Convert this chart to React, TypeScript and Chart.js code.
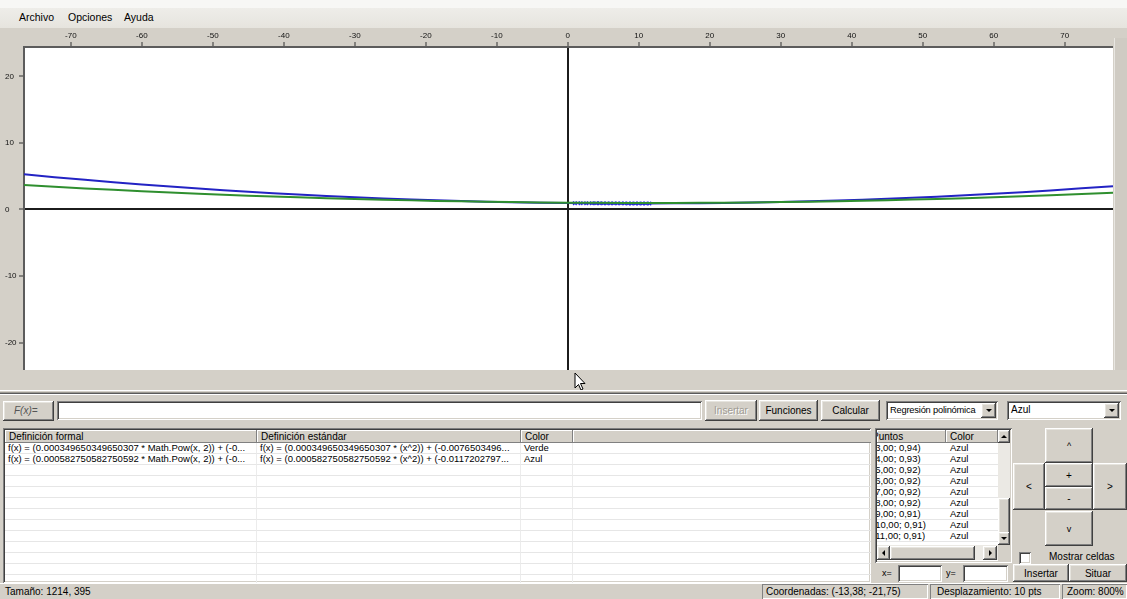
import React, { useEffect, useRef } from "react";
import { Chart, registerables } from "chart.js";

Chart.register(...registerables);

// ---- data ----
const xTickLabels = [-70, -60, -50, -40, -30, -20, -10, 0, 10, 20, 30, 40, 50, 60, 70];
const yTickLabels = [-20, -10, 0, 10, 20];
const X_MIN = -76.6;
const X_MAX = 76.8;
const Y_MIN = -24.1;
const Y_MAX = 24.4;

const curveX = [-76.6, -68, -60, -52, -45, -38, -30, -22, -15, -8, 0, 8, 15, 22, 30, 38, 45, 52, 60, 68, 76.8];
const blueY = [5.28, 4.45, 3.76, 3.15, 2.67, 2.25, 1.84, 1.5, 1.27, 1.09, 0.96, 0.9, 0.92, 0.98, 1.13, 1.36, 1.61, 1.93, 2.36, 2.86, 3.5];
const greenY = [3.67, 3.17, 2.75, 2.37, 2.08, 1.83, 1.57, 1.37, 1.22, 1.11, 1.03, 0.99, 0.99, 1.03, 1.12, 1.24, 1.4, 1.58, 1.83, 2.13, 2.51];

const pointX = [1, 1.8, 2.6, 3.4, 4, 4.5, 5, 5.5, 6, 6.5, 7, 7.5, 8, 8.5, 9, 9.5, 10, 10.5, 11, 11.5];
const pointY = [0.95, 0.95, 0.94, 0.94, 0.93, 0.93, 0.92, 0.92, 0.92, 0.92, 0.92, 0.92, 0.92, 0.91, 0.91, 0.91, 0.91, 0.91, 0.91, 0.91];

const functionRows = [
  {
    formal: "f(x) = (0.000349650349650307 * Math.Pow(x, 2)) + (-0...",
    standard: "f(x) = (0.000349650349650307 * (x^2)) + (-0.0076503496...",
    color: "Verde",
  },
  {
    formal: "f(x) = (0.000582750582750592 * Math.Pow(x, 2)) + (-0...",
    standard: "f(x) = (0.000582750582750592 * (x^2)) + (-0.0117202797...",
    color: "Azul",
  },
];

const pointRows = [
  "(3,00; 0,94)",
  "(4,00; 0,93)",
  "(5,00; 0,92)",
  "(6,00; 0,92)",
  "(7,00; 0,92)",
  "(8,00; 0,92)",
  "(9,00; 0,91)",
  "(10,00; 0,91)",
  "(11,00; 0,91)",
];

const BLUE = "#2323c4";
const GREEN = "#2f8f2f";
const POINT_BLUE = "#2a2af0";
const FONT = '"Liberation Sans", Arial, sans-serif';

const raised: React.CSSProperties = {
  background: "#d4d0c8",
  boxShadow:
    "inset -1px -1px #404040, inset 1px 1px #ffffff, inset -2px -2px #808080, inset 2px 2px #e6e4de",
};
const sunken: React.CSSProperties = {
  background: "#ffffff",
  boxShadow:
    "inset 1px 1px #808080, inset -1px -1px #ffffff, inset 2px 2px #404040, inset -2px -2px #d4d0c8",
};
const thinSunken: React.CSSProperties = {
  boxShadow: "inset 1px 1px #808080, inset -1px -1px #ffffff",
};

const abs = (l: number, t: number, w: number, h: number): React.CSSProperties => ({
  position: "absolute",
  left: l,
  top: t,
  width: w,
  height: h,
  boxSizing: "border-box",
});

function Btn(props: { l: number; t: number; w: number; h: number; text: string; disabled?: boolean; size?: number }) {
  const { l, t, w, h, text, disabled, size } = props;
  return (
    <div
      style={{
        ...abs(l, t, w, h),
        ...raised,
        display: "flex",
        alignItems: "center",
        justifyContent: "center",
        fontSize: size || 10,
        color: disabled ? "#a09c94" : "#000",
        textShadow: disabled ? "1px 1px #ffffff" : "none",
      }}
    >
      {text}
    </div>
  );
}

function Arrow(props: { dir: "down" | "up" | "left" | "right" }) {
  const s = 3;
  const base: React.CSSProperties = { width: 0, height: 0, borderStyle: "solid", borderColor: "transparent" };
  if (props.dir === "down")
    return <div style={{ ...base, borderWidth: `${s}px ${s}px 0 ${s}px`, borderTopColor: "#000" }} />;
  if (props.dir === "up")
    return <div style={{ ...base, borderWidth: `0 ${s}px ${s}px ${s}px`, borderBottomColor: "#000" }} />;
  if (props.dir === "left")
    return <div style={{ ...base, borderWidth: `${s}px ${s}px ${s}px 0`, borderRightColor: "#000" }} />;
  return <div style={{ ...base, borderWidth: `${s}px 0 ${s}px ${s}px`, borderLeftColor: "#000" }} />;
}

function ArrowBtn(props: { l: number; t: number; w: number; h: number; dir: "down" | "up" | "left" | "right" }) {
  return (
    <div style={{ ...abs(props.l, props.t, props.w, props.h), ...raised, display: "flex", alignItems: "center", justifyContent: "center" }}>
      <Arrow dir={props.dir} />
    </div>
  );
}

function Select(props: { l: number; t: number; w: number; h: number; text: string; size?: number }) {
  const { l, t, w, h, text, size } = props;
  return (
    <div style={{ ...abs(l, t, w, h), ...sunken }}>
      <div style={{ position: "absolute", left: 4, top: 3, fontSize: size || 10, lineHeight: "12px", color: "#000", whiteSpace: "nowrap", letterSpacing: size ? -0.2 : 0 }}>{text}</div>
      <ArrowBtn l={w - 17} t={2} w={15} h={h - 4} dir="down" />
    </div>
  );
}

function PlotChart() {
  const ref = useRef<HTMLCanvasElement | null>(null);
  useEffect(() => {
    if (!ref.current) return;
    const bgPlugin = {
      id: "bgPlugin",
      beforeDraw(chart: any) {
        const { ctx, chartArea: a, width, height } = chart;
        ctx.save();
        ctx.fillStyle = "#d4d0c8";
        ctx.fillRect(0, 0, width, height);
        ctx.fillStyle = "#ffffff";
        ctx.fillRect(a.left, a.top, a.right - a.left, a.bottom - a.top);
        ctx.restore();
      },
    };
    const tickFont = { size: 8, family: FONT };
    const zeroPad = (s: any) => {
      s.paddingTop = 0;
      s.paddingBottom = 0;
      s.paddingLeft = 0;
      s.paddingRight = 0;
    };
    const chart = new Chart(ref.current, {
      type: "scatter",
      data: {
        datasets: [
          {
            label: "Verde",
            data: curveX.map((x, i) => ({ x, y: greenY[i] })),
            showLine: true,
            borderColor: GREEN,
            backgroundColor: GREEN,
            borderWidth: 2,
            pointRadius: 0,
            tension: 0.4,
          },
          {
            label: "Azul",
            data: curveX.map((x, i) => ({ x, y: blueY[i] })),
            showLine: true,
            borderColor: BLUE,
            backgroundColor: BLUE,
            borderWidth: 2,
            pointRadius: 0,
            tension: 0.4,
          },
          {
            label: "Puntos",
            data: pointX.map((x, i) => ({ x, y: pointY[i] })),
            showLine: false,
            pointStyle: "crossRot",
            pointRadius: 2.5,
            borderWidth: 1.3,
            borderColor: POINT_BLUE,
            backgroundColor: POINT_BLUE,
          },
        ],
      },
      options: {
        animation: false,
        responsive: false,
        maintainAspectRatio: false,
        layout: { autoPadding: false, padding: { left: 5, top: 0, right: 0, bottom: 0 } },
        plugins: { legend: { display: false }, tooltip: { enabled: false } },
        scales: {
          x: {
            type: "linear",
            position: "top",
            min: X_MIN,
            max: X_MAX,
            afterFit: (s: any) => {
              s.height = 19;
              zeroPad(s);
            },
            afterBuildTicks: (s: any) => {
              s.ticks = xTickLabels.map((v) => ({ value: v }));
            },
            ticks: {
              font: tickFont,
              color: "#111",
              padding: 1,
              maxRotation: 0,
              autoSkip: false,
              includeBounds: false,
            },
            grid: {
              color: (c: any) => (c.tick && c.tick.value === 0 ? "#1c1c1c" : "rgba(0,0,0,0)"),
              lineWidth: 2,
              tickColor: "#333",
              tickWidth: 1,
              tickLength: 5,
            },
            border: { display: true, color: "#5c5c5c", width: 2 },
          },
          y: {
            type: "linear",
            position: "left",
            min: Y_MIN,
            max: Y_MAX,
            afterFit: (s: any) => {
              s.width = 19;
              zeroPad(s);
            },
            afterBuildTicks: (s: any) => {
              s.ticks = yTickLabels.map((v) => ({ value: v }));
            },
            ticks: {
              font: tickFont,
              color: "#111",
              padding: 1,
              crossAlign: "far",
              autoSkip: false,
              includeBounds: false,
            },
            grid: {
              color: (c: any) => (c.tick && c.tick.value === 0 ? "#1c1c1c" : "rgba(0,0,0,0)"),
              lineWidth: 2,
              tickColor: "#333",
              tickWidth: 1,
              tickLength: 5,
            },
            border: { display: true, color: "#5c5c5c", width: 2 },
          },
        },
      } as any,
      plugins: [bgPlugin],
    });
    return () => chart.destroy();
  }, []);
  return <canvas ref={ref} width={1113} height={342} style={{ position: "absolute", left: 0, top: 28, display: "block" }} />;
}

function FunctionTable() {
  const cols = [252, 264, 52, 547];
  const headers = ["Definición formal", "Definición estándar", "Color", ""];
  const rows = 13;
  return (
    <div style={{ ...abs(3, 428, 868, 155), ...sunken, overflow: "hidden" }}>
      <div style={{ position: "absolute", left: 2, top: 2, display: "flex", height: 13 }}>
        {headers.map((h, i) => (
          <div
            key={i}
            style={{
              width: cols[i],
              height: 13,
              ...raised,
              boxShadow: "inset -1px -1px #808080, inset 1px 1px #ffffff",
              fontSize: 10,
              lineHeight: "13px",
              paddingLeft: 4,
              boxSizing: "border-box",
              whiteSpace: "nowrap",
              overflow: "hidden",
            }}
          >
            {h}
          </div>
        ))}
      </div>
      {Array.from({ length: rows }).map((_, r) => {
        const row = functionRows[r];
        const cells = row ? [row.formal, row.standard, row.color, ""] : ["", "", "", ""];
        return (
          <div key={r} style={{ position: "absolute", left: 2, top: 15 + r * 11, display: "flex", height: 11 }}>
            {cells.map((c, i) => (
              <div
                key={i}
                style={{
                  width: cols[i],
                  height: 11,
                  boxSizing: "border-box",
                  borderBottom: "1px solid #e6e6e6",
                  borderRight: "1px solid #ececec",
                  fontSize: 9.5,
                  lineHeight: "10px",
                  paddingLeft: 3,
                  whiteSpace: "nowrap",
                  overflow: "hidden",
                }}
              >
                {c}
              </div>
            ))}
          </div>
        );
      })}
    </div>
  );
}

function PointsList() {
  return (
    <div style={{ ...abs(875, 428, 137, 135), ...sunken, overflow: "hidden" }}>
      <div style={{ position: "absolute", left: 2, top: 2, width: 69, height: 13, ...raised, boxShadow: "inset -1px -1px #808080, inset 1px 1px #ffffff", overflow: "hidden" }}>
        <div style={{ position: "absolute", left: -5, top: 0, fontSize: 10, lineHeight: "13px", whiteSpace: "nowrap" }}>Puntos</div>
      </div>
      <div style={{ position: "absolute", left: 71, top: 2, width: 52, height: 13, ...raised, boxShadow: "inset -1px -1px #808080, inset 1px 1px #ffffff", fontSize: 10, lineHeight: "13px", paddingLeft: 4, boxSizing: "border-box" }}>
        Color
      </div>
      {pointRows.map((p, i) => (
        <div key={i} style={{ position: "absolute", left: 2, top: 15 + i * 11, width: 121, height: 11, display: "flex", borderBottom: "1px solid #e6e6e6", boxSizing: "border-box" }}>
          <div style={{ width: 69, height: 10, overflow: "hidden", position: "relative" }}>
            <div style={{ position: "absolute", left: -5, top: 0, fontSize: 9.5, lineHeight: "10px", whiteSpace: "nowrap" }}>{p}</div>
          </div>
          <div style={{ width: 52, height: 10, fontSize: 9.5, lineHeight: "10px", paddingLeft: 4, boxSizing: "border-box" }}>Azul</div>
        </div>
      ))}
      <div style={{ ...abs(123, 2, 12, 115), background: "#ebe9e4" }} />
      <ArrowBtn l={123} t={2} w={12} h={13} dir="up" />
      <div style={{ ...abs(123, 70, 12, 36), ...raised }} />
      <ArrowBtn l={123} t={104} w={12} h={13} dir="down" />
      <div style={{ ...abs(2, 117, 121, 15), background: "#ebe9e4" }} />
      <ArrowBtn l={2} t={118} w={13} h={14} dir="left" />
      <div style={{ ...abs(15, 118, 85, 14), ...raised }} />
      <ArrowBtn l={108} t={118} w={14} h={14} dir="right" />
      <div style={{ ...abs(123, 117, 12, 16), background: "#d4d0c8" }} />
    </div>
  );
}

function Cursor() {
  return (
    <svg style={{ position: "absolute", left: 574, top: 372 }} width="13" height="20" viewBox="0 0 13 20">
      <path d="M1 1 L1 16 L4.5 12.5 L7 18 L9 17 L6.5 11.5 L11 11.5 Z" fill="#ffffff" stroke="#000000" strokeWidth="1" />
    </svg>
  );
}

export default function App() {
  return (
    <div style={{ position: "relative", width: 1127, height: 599, overflow: "hidden", fontFamily: FONT, color: "#000", background: "#d4d0c8" }}>
      <style>{`body{margin:0;}`}</style>
      <div style={{ ...abs(0, 0, 1127, 8), background: "#f7f7f5" }} />
      <div style={{ ...abs(0, 8, 1127, 20), background: "linear-gradient(#eeede9, #e6e4de)" }} />
      <div style={{ position: "absolute", left: 19, top: 11, fontSize: 10.5, lineHeight: "12px" }}>Archivo</div>
      <div style={{ position: "absolute", left: 68, top: 11, fontSize: 10.5, lineHeight: "12px" }}>Opciones</div>
      <div style={{ position: "absolute", left: 124, top: 11, fontSize: 10.5, lineHeight: "12px" }}>Ayuda</div>

      <PlotChart />
      <div style={{ ...abs(1113, 28, 14, 362), background: "#d4d0c8" }} />
      <div style={{ ...abs(1114, 38, 13, 352), background: "#cfcbc3", borderLeft: "1px solid #e8e6e1" }} />

      <div style={{ ...abs(0, 370, 1127, 20), background: "#d4d0c8" }} />
      <Cursor />

      <div style={{ ...abs(0, 390, 1127, 1), background: "#ffffff" }} />
      <div style={{ ...abs(0, 392, 1127, 1), background: "#9c9992" }} />
      <div style={{ ...abs(0, 393, 1127, 1), background: "#5a5a5a" }} />
      <div style={{ ...abs(0, 394, 1127, 1), background: "#ffffff" }} />

      <div style={{ ...abs(3, 401, 51, 20), ...raised, fontSize: 10, fontStyle: "italic", color: "#555", lineHeight: "20px", paddingLeft: 11 }}>F(x)=</div>
      <div style={{ ...abs(57, 401, 645, 19), ...sunken }} />
      <Btn l={705} t={400} w={52} h={21} text="Insertar" disabled />
      <Btn l={759} t={400} w={59} h={21} text="Funciones" />
      <Btn l={821} t={400} w={59} h={21} text="Calcular" />
      <Select l={886} t={401} w={112} h={19} text="Regresión polinómica" size={9.3} />
      <Select l={1007} t={401} w={114} h={19} text="Azul" />

      <FunctionTable />
      <PointsList />

      <div style={{ position: "absolute", left: 882, top: 568, fontSize: 9, lineHeight: "11px" }}>x=</div>
      <div style={{ ...abs(898, 565, 44, 17), ...sunken }} />
      <div style={{ position: "absolute", left: 946, top: 568, fontSize: 9, lineHeight: "11px" }}>y=</div>
      <div style={{ ...abs(963, 565, 45, 17), ...sunken }} />

      <Btn l={1045} t={428} w={48} h={35} text="^" size={9} />
      <Btn l={1013} t={463} w={32} h={47} text="<" size={10} />
      <Btn l={1045} t={463} w={48} h={24} text="+" size={10} />
      <Btn l={1045} t={487} w={48} h={23} text="-" size={10} />
      <Btn l={1093} t={463} w={34} h={47} text=">" size={10} />
      <Btn l={1045} t={511} w={48} h={35} text="v" size={9} />

      <div style={{ ...abs(1019, 552, 12, 12), ...sunken }} />
      <div style={{ position: "absolute", left: 1049, top: 551, fontSize: 10, lineHeight: "12px" }}>Mostrar celdas</div>
      <Btn l={1013} t={564} w={56} h={18} text="Insertar" />
      <Btn l={1069} t={564} w={58} h={18} text="Situar" />

      <div style={{ ...abs(0, 583, 1127, 16), background: "#d4d0c8", borderTop: "1px solid #ffffff" }} />
      <div style={{ position: "absolute", left: 5, top: 586, fontSize: 10, lineHeight: "12px" }}>Tamaño: 1214, 395</div>
      <div style={{ ...abs(762, 584, 166, 15), ...thinSunken, fontSize: 10, lineHeight: "15px", paddingLeft: 4, whiteSpace: "nowrap" }}>Coordenadas: (-13,38; -21,75)</div>
      <div style={{ ...abs(930, 584, 130, 15), ...thinSunken, fontSize: 10, lineHeight: "15px", paddingLeft: 7, whiteSpace: "nowrap" }}>Desplazamiento: 10 pts</div>
      <div style={{ ...abs(1062, 584, 65, 15), ...thinSunken, fontSize: 10, lineHeight: "15px", paddingLeft: 5, whiteSpace: "nowrap" }}>Zoom: 800%</div>
    </div>
  );
}
